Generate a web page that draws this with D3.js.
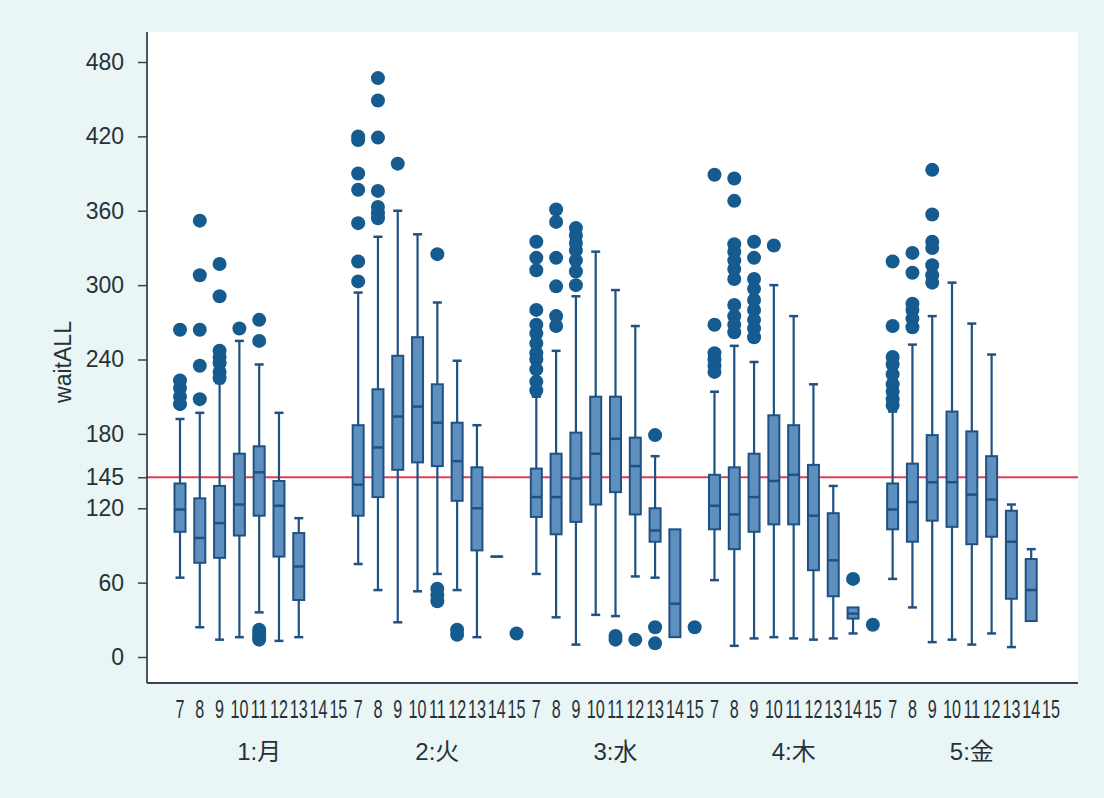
<!DOCTYPE html>
<html>
<head>
<meta charset="utf-8">
<script src="https://cdn.jsdelivr.net/npm/d3@7"></script>
<style>
  html, body { margin: 0; padding: 0; background: #eaf5f5; }
  svg { display: block; }
</style>
</head>
<body>
<svg id="chart" width="1104" height="798"></svg>
<script>
// ---- Data ----
const days = ["1:月", "2:火", "3:水", "4:木", "5:金"];
const hours = ["7", "8", "9", "10", "11", "12", "13", "14", "15"];
const yTicks = [0, 60, 120, 145, 180, 240, 300, 360, 420, 480];
const refLine = 145;

// box stats per hour: [lowerWhisker, q1, median, q3, upperWhisker] (null = no box)
const monStats = [[64,101,119,140,192],[24,76,96,128,197],[14,80,108,138,221],[16,98,123,164,255],[36,114,149,170,236],[13,81,122,142,197],[16,46,73,100,112],null,null];
const tueStats = [[75,114,139,187,294],[54,129,169,216,339],[28,151,194,243,360],[53,157,202,258,341],[67,154,189,220,286],[54,126,158,189,239],[16,86,120,153,187],[81,81,81,81,81],null];
const wedStats = [[67,113,129,152,210],[32,99,129,164,247],[10,109,144,181,291],[34,123,164,210,327],[33,133,176,210,296],[65,115,154,177,267],[64,93,102,120,162],[16,16,43,103,103],null];
const thuStats = [[62,103,122,147,214],[9,87,115,153,251],[15,101,129,164,238],[16,107,142,195,300],[15,107,147,187,275],[14,70,114,155,220],[15,49,78,116,138],[19,31,35,40,40],null];
const friStats = [[63,103,119,140,198],[40,93,125,156,252],[12,110,141,179,275],[14,105,141,198,302],[10,91,131,182,269],[19,97,127,162,244],[8,47,93,118,123],[29,29,54,79,87],null];

// outliers per hour
const monOut = [[264,223,217,210,204],[352,308,264,235,208],[317,291,247,242,237,230,225],[265],[272,255,22,19,16,14],[],[],[],[]];
const tueOut = [[303,319,350,377,390,417,420],[467,449,419,376,363,358,354],[398],[],[325,55,50,45],[22,18],[],[],[19]];
const wedOut = [[335,322,312,280,268,261,253,245,240,232,222,215],[361,351,322,299,275,267],[346,340,334,328,320,311,300],[],[17,14],[14],[179,24,11],[],[24]];
const thuOut = [[389,268,245,240,235,230],[386,368,333,327,320,313,305,284,275,268,262],[335,322,305,297,288,280,272,265,258],[332],[],[],[],[63],[26]];
const friOut = [[319,267,242,236,228,220,214,208,203],[326,310,285,280,273,266],[393,357,335,330,316,308,302],[],[],[],[],[],[]];

const statsByDay = [monStats, tueStats, wedStats, thuStats, friStats];
const outByDay = [monOut, tueOut, wedOut, thuOut, friOut];

// ---- Layout ----
const plot = { left: 147, right: 1078, top: 32, bottom: 683 };
const colors = {
  boxFill: "#5d8fbf", boxStroke: "#1f5282", whisker: "#1f5282",
  dot: "#165b8f", ref: "#e03c52", axis: "#3a454e", text: "#27313a"
};

const svg = d3.select("#chart");

const records = [];
days.forEach((d, di) => {
  hours.forEach((h, hi) => {
    records.push({ key: di + "-" + h, day: d, dayIdx: di, hour: h, stats: statsByDay[di][hi], outliers: outByDay[di][hi] });
  });
});

const x = d3.scalePoint().domain(records.map(r => r.key)).range([180, 1051]);
const y = d3.scaleLinear().domain([0, 480]).range([657, 62]);

svg.append("rect")
  .attr("x", plot.left).attr("y", plot.top)
  .attr("width", plot.right - plot.left).attr("height", plot.bottom - plot.top)
  .attr("fill", "#ffffff");

svg.append("line")
  .attr("x1", plot.left).attr("x2", plot.right)
  .attr("y1", y(refLine)).attr("y2", y(refLine))
  .attr("stroke", colors.ref).attr("stroke-width", 2);

const boxW = 11, capW = 9;
const g = svg.append("g");

const withStats = records.filter(r => r.stats);
g.selectAll(".whisker").data(withStats).join("line")
  .attr("x1", d => x(d.key)).attr("x2", d => x(d.key))
  .attr("y1", d => y(d.stats[0])).attr("y2", d => y(d.stats[4]))
  .attr("stroke", colors.whisker).attr("stroke-width", 2.2);
[[0, 1], [4, 3]].forEach(([idx, other]) => {
  g.selectAll(".cap" + idx).data(withStats.filter(d => d.stats[idx] !== d.stats[other])).join("line")
    .attr("x1", d => x(d.key) - capW / 2).attr("x2", d => x(d.key) + capW / 2)
    .attr("y1", d => y(d.stats[idx])).attr("y2", d => y(d.stats[idx]))
    .attr("stroke", colors.whisker).attr("stroke-width", 2.5);
});
g.selectAll(".box").data(withStats).join("rect")
  .attr("x", d => x(d.key) - boxW / 2)
  .attr("y", d => y(d.stats[3]))
  .attr("width", boxW)
  .attr("height", d => Math.max(0.01, y(d.stats[1]) - y(d.stats[3])))
  .attr("fill", colors.boxFill)
  .attr("stroke", colors.boxStroke).attr("stroke-width", 2);
g.selectAll(".median").data(withStats).join("line")
  .attr("x1", d => x(d.key) - boxW / 2).attr("x2", d => x(d.key) + boxW / 2)
  .attr("y1", d => y(d.stats[2])).attr("y2", d => y(d.stats[2]))
  .attr("stroke", colors.boxStroke).attr("stroke-width", 2.5);

const dots = [];
records.forEach(r => r.outliers.forEach(v => dots.push({ key: r.key, v })));
g.selectAll(".dot").data(dots).join("circle")
  .attr("cx", d => x(d.key)).attr("cy", d => y(d.v))
  .attr("r", 7).attr("fill", colors.dot);

// y axis
const yAxis = svg.append("g")
  .attr("transform", `translate(${plot.left},0)`)
  .call(d3.axisLeft(y).tickValues(yTicks).tickSize(9).tickPadding(14).tickFormat(d3.format("d")));
yAxis.select(".domain").remove();
yAxis.selectAll(".tick line").attr("stroke", colors.axis).attr("stroke-width", 1.5);
yAxis.selectAll(".tick text")
  .attr("fill", colors.text)
  .style("font-family", "'Liberation Sans', Arial, sans-serif")
  .style("font-size", "23px");

svg.append("line")
  .attr("x1", plot.left).attr("x2", plot.left)
  .attr("y1", plot.top).attr("y2", plot.bottom)
  .attr("stroke", colors.axis).attr("stroke-width", 1.8);
svg.append("line")
  .attr("x1", plot.left).attr("x2", plot.right)
  .attr("y1", plot.bottom).attr("y2", plot.bottom)
  .attr("stroke", colors.axis).attr("stroke-width", 1.8);

// x hour labels (tall, narrow digits)
svg.append("g").selectAll("text").data(records).join("text")
  .attr("transform", d => `translate(${x(d.key)},718) scale(0.62,1)`)
  .attr("text-anchor", "middle")
  .attr("fill", colors.text)
  .style("font-family", "'Liberation Sans', Arial, sans-serif")
  .style("font-size", "26px")
  .text(d => d.hour);

// day labels
svg.append("g").selectAll("text").data(days).join("text")
  .attr("x", (d, i) => x(i + "-" + hours[4]))
  .attr("y", 760)
  .attr("text-anchor", "middle")
  .attr("fill", colors.text)
  .style("font-family", "'Liberation Sans', 'Noto Sans CJK JP', sans-serif")
  .style("font-size", "24px")
  .text(d => d);

// y title
svg.append("text")
  .attr("transform", `translate(71,362) rotate(-90)`)
  .attr("text-anchor", "middle")
  .attr("fill", colors.text)
  .style("font-family", "'Liberation Sans', Arial, sans-serif")
  .style("font-size", "23px")
  .text("waitALL");
</script>
</body>
</html>
